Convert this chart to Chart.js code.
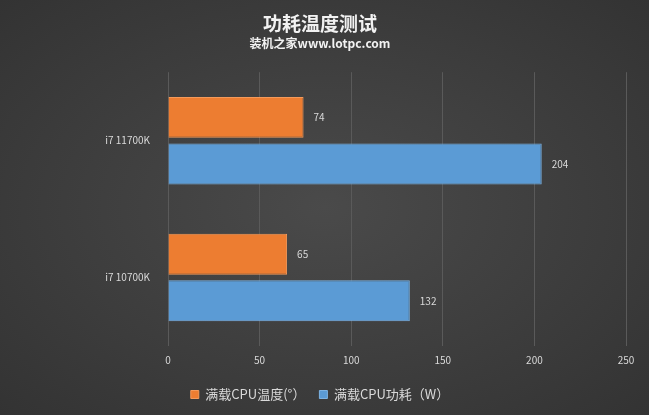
<!DOCTYPE html>
<html><head><meta charset="utf-8">
<script src="https://cdn.jsdelivr.net/npm/chart.js@4"></script>
<style>html,body{margin:0;padding:0;}body{width:649px;height:415px;background:radial-gradient(ellipse at center,#4a4a4a 0%,#3a3a3a 70%,#333 100%);}#w{width:649px;height:415px;}</style>
</head><body><div id="w"><canvas id="c" width="649" height="415"></canvas></div>
<script>
const categories = ['i7 11700K', 'i7 10700K'];
const tempValues = [74, 65];
const powerValues = [204, 132];
const seriesNames = ['满载CPU温度(°）', '满载CPU功耗（W）'];
const font = "'Noto Sans CJK SC','Microsoft YaHei',sans-serif";
const labelPlugin = {
  id: 'vals',
  afterDatasetsDraw(chart) {
    const ctx = chart.ctx;
    ctx.save();
    ctx.fillStyle = '#d9d9d9';
    ctx.font = '10px ' + font;
    ctx.textBaseline = 'middle';
    chart.data.datasets.forEach((ds, i) => {
      chart.getDatasetMeta(i).data.forEach((bar, j) => {
        ctx.fillText(ds.data[j], bar.x + 10, bar.y);
      });
    });
    ctx.restore();
  }
};
new Chart(document.getElementById('c'), {
  type: 'bar',
  data: {
    labels: categories,
    datasets: [
      { label: seriesNames[0], data: tempValues, backgroundColor: '#ED7D31', borderColor: '#f59a5a', borderWidth: 1 },
      { label: seriesNames[1], data: powerValues, backgroundColor: '#5B9BD5', borderColor: '#7db3e3', borderWidth: 1 }
    ]
  },
  options: {
    indexAxis: 'y',
    responsive: false,
    animation: false,
    layout: { padding: { left: 14, right: 23, top: 0, bottom: 4 } },
    datasets: { bar: { categoryPercentage: 0.68, barPercentage: 0.88 } },
    scales: {
      x: { min: 0, max: 250, ticks: { stepSize: 50, color: '#d9d9d9', font: { size: 10, family: font }, padding: 8 },
           grid: { color: '#5a5a5a', drawTicks: false }, border: { display: false } },
      y: { afterFit: s => { s.width = 154; },
           ticks: { color: '#d9d9d9', font: { size: 10, family: font }, padding: 10 },
           grid: { display: false }, border: { display: false } }
    },
    plugins: {
      title: { display: true, text: '功耗温度测试', color: '#f2f2f2', font: { size: 19, weight: 'bold', family: font }, padding: { top: 12, bottom: 1 } },
      subtitle: { display: true, text: '装机之家www.lotpc.com', color: '#f2f2f2', font: { size: 12, weight: 'bold', family: font }, padding: { top: 0, bottom: 22 } },
      legend: { position: 'bottom', labels: { color: '#d9d9d9', boxWidth: 8, boxHeight: 8, font: { size: 13, family: font }, padding: 14 } },
      tooltip: { enabled: false }
    }
  },
  plugins: [labelPlugin]
});
</script></body></html>
